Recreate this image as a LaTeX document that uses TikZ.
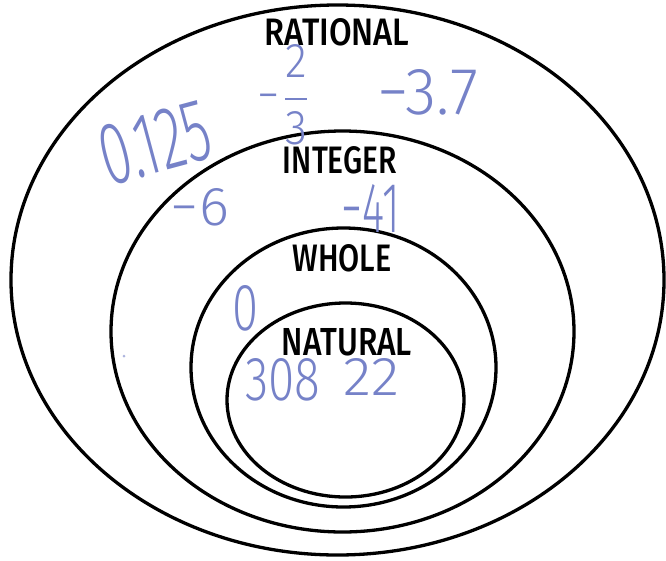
\documentclass[tikz,border=0pt]{standalone}
\usepackage{fontspec}
\usepackage{graphicx}
\setmainfont{Fira Sans}
\newfontfamily\labfont{Fira Sans}[UprightFont=* Medium]
\newfontfamily\handfont{Fira Sans}[UprightFont=* Light]
\definecolor{pen}{RGB}{118,130,200}
\newcommand{\fitbox}[3]{\resizebox{#1pt}{#2pt}{#3}}
\tikzset{
  ring/.style={draw=black, line width=3.3pt},
  setlabel/.style={inner sep=0pt, text=black, font=\labfont},
  hand/.style={inner sep=0pt, text=pen, font=\handfont},
}
\begin{document}
\begin{tikzpicture}[x=1pt, y=-1pt]
\useasboundingbox (0,0) rectangle (666,560);
% nested sets
\draw[ring] (337.5,280) ellipse [x radius=326.5pt, y radius=275pt];
\draw[ring] (342.5,331.5) ellipse [x radius=231.5pt, y radius=200.5pt];
\draw[ring] (343.5,367.5) ellipse [x radius=152.5pt, y radius=139.5pt];
\draw[ring] (345.5,400) ellipse [x radius=118.5pt, y radius=97pt];
% set names
\node[setlabel] (rational) at (337,32) {\fitbox{145}{27}{RATIONAL}};
\node[setlabel] (integer) at (340,160) {\fitbox{114}{27}{INTEGER}};
\node[setlabel] (whole) at (342,258) {\fitbox{99}{27}{WHOLE}};
\node[setlabel] (natural) at (347,342) {\fitbox{130}{27}{NATURAL}};
% handwritten numbers
\node[hand, rotate=15] (n0125) at (155,143) {\fitbox{112}{60}{0.125}};
\node[hand] (ntwothirds) at (285,95) {\fitbox{55}{66}{−$\displaystyle\frac{\hbox{2}}{\hbox{3}}$}};
\node[hand] (n37) at (428,92) {\fitbox{100}{45}{−3.7}};
\node[hand] (n6) at (200,207) {\fitbox{58}{37}{−6}};
\node[hand] (n41) at (371,208) {\fitbox{58}{48}{−41}};
\node[hand] (nzero) at (245,308) {\fitbox{26}{45}{0}};
\node[hand] (n308) at (283,380) {\fitbox{75}{42}{308}};
\node[hand] (n22) at (371,377) {\fitbox{56}{37}{22}};
\fill[pen!60] (124,356) circle [radius=1.5pt];
\end{tikzpicture}
\end{document}
